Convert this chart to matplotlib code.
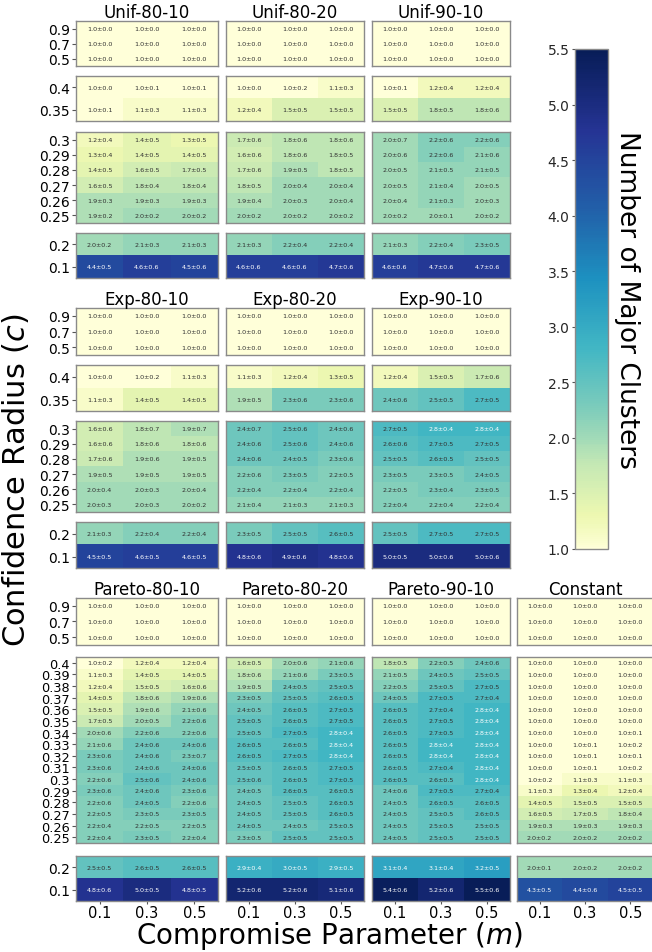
import numpy as np
import matplotlib
matplotlib.use("Agg")
import matplotlib.pyplot as plt
from matplotlib import colors as mcolors, cm

# ---------------- data ----------------
M_VALUES = ["0.1", "0.3", "0.5"]
C_TOP = ["0.9", "0.7", "0.5"]
C_MID = ["0.4", "0.35"]
C_LOW = ["0.3", "0.29", "0.28", "0.27", "0.26", "0.25"]
C_BOT = ["0.2", "0.1"]
C_FINE = ["0.4", "0.39", "0.38", "0.37", "0.36", "0.35", "0.34", "0.33",
          "0.32", "0.31", "0.3", "0.29", "0.28", "0.27", "0.26", "0.25"]

TOP_ONES = ["1.0±0.0 1.0±0.0 1.0±0.0"] * 3

UNIF_80_10 = TOP_ONES + [
    "1.0±0.0 1.0±0.1 1.0±0.1",
    "1.0±0.1 1.1±0.3 1.1±0.3",
    "1.2±0.4 1.4±0.5 1.3±0.5",
    "1.3±0.4 1.4±0.5 1.4±0.5",
    "1.4±0.5 1.6±0.5 1.7±0.5",
    "1.6±0.5 1.8±0.4 1.8±0.4",
    "1.9±0.3 1.9±0.3 1.9±0.3",
    "1.9±0.2 2.0±0.2 2.0±0.2",
    "2.0±0.2 2.1±0.3 2.1±0.3",
    "4.4±0.5 4.6±0.6 4.5±0.6",
]
UNIF_80_20 = TOP_ONES + [
    "1.0±0.0 1.0±0.2 1.1±0.3",
    "1.2±0.4 1.5±0.5 1.5±0.5",
    "1.7±0.6 1.8±0.6 1.8±0.6",
    "1.6±0.6 1.8±0.6 1.8±0.5",
    "1.7±0.6 1.9±0.5 1.8±0.5",
    "1.8±0.5 2.0±0.4 2.0±0.4",
    "1.9±0.4 2.0±0.3 2.0±0.4",
    "2.0±0.2 2.0±0.2 2.0±0.2",
    "2.1±0.3 2.2±0.4 2.2±0.4",
    "4.6±0.6 4.6±0.6 4.7±0.6",
]
UNIF_90_10 = TOP_ONES + [
    "1.0±0.1 1.2±0.4 1.2±0.4",
    "1.5±0.5 1.8±0.5 1.8±0.6",
    "2.0±0.7 2.2±0.6 2.2±0.6",
    "2.0±0.6 2.2±0.6 2.1±0.6",
    "2.0±0.5 2.1±0.5 2.1±0.5",
    "2.0±0.5 2.1±0.4 2.0±0.5",
    "2.0±0.4 2.1±0.3 2.0±0.3",
    "2.0±0.2 2.0±0.1 2.0±0.2",
    "2.1±0.3 2.2±0.4 2.3±0.5",
    "4.6±0.6 4.7±0.6 4.7±0.6",
]
EXP_80_10 = TOP_ONES + [
    "1.0±0.0 1.0±0.2 1.1±0.3",
    "1.1±0.3 1.4±0.5 1.4±0.5",
    "1.6±0.6 1.8±0.7 1.9±0.7",
    "1.6±0.6 1.8±0.6 1.8±0.6",
    "1.7±0.6 1.9±0.6 1.9±0.5",
    "1.9±0.5 1.9±0.5 1.9±0.5",
    "2.0±0.4 2.0±0.3 2.0±0.4",
    "2.0±0.3 2.0±0.3 2.0±0.2",
    "2.1±0.3 2.2±0.4 2.2±0.4",
    "4.5±0.5 4.6±0.5 4.6±0.5",
]
EXP_80_20 = TOP_ONES + [
    "1.1±0.3 1.2±0.4 1.3±0.5",
    "1.9±0.5 2.3±0.6 2.3±0.6",
    "2.4±0.7 2.5±0.6 2.4±0.6",
    "2.4±0.6 2.5±0.6 2.4±0.6",
    "2.4±0.6 2.4±0.5 2.3±0.6",
    "2.2±0.6 2.3±0.5 2.2±0.5",
    "2.2±0.4 2.2±0.4 2.2±0.4",
    "2.1±0.4 2.1±0.3 2.1±0.3",
    "2.3±0.5 2.5±0.5 2.6±0.5",
    "4.8±0.6 4.9±0.6 4.8±0.6",
]
EXP_90_10 = TOP_ONES + [
    "1.2±0.4 1.5±0.5 1.7±0.6",
    "2.4±0.6 2.5±0.5 2.7±0.5",
    "2.7±0.5 2.8±0.4 2.8±0.4",
    "2.6±0.6 2.7±0.5 2.7±0.5",
    "2.5±0.5 2.6±0.5 2.5±0.5",
    "2.3±0.5 2.3±0.5 2.4±0.5",
    "2.2±0.5 2.3±0.4 2.3±0.5",
    "2.2±0.4 2.2±0.4 2.2±0.4",
    "2.5±0.5 2.7±0.5 2.7±0.5",
    "5.0±0.5 5.0±0.6 5.0±0.6",
]
PARETO_80_10 = TOP_ONES + [
    "1.0±0.2 1.2±0.4 1.2±0.4",
    "1.1±0.3 1.4±0.5 1.4±0.5",
    "1.2±0.4 1.5±0.5 1.6±0.6",
    "1.4±0.5 1.8±0.6 1.9±0.6",
    "1.5±0.5 1.9±0.6 2.1±0.6",
    "1.7±0.5 2.0±0.5 2.2±0.6",
    "2.0±0.6 2.2±0.6 2.2±0.6",
    "2.1±0.6 2.4±0.6 2.4±0.6",
    "2.3±0.6 2.4±0.6 2.3±0.7",
    "2.3±0.6 2.4±0.6 2.4±0.6",
    "2.2±0.6 2.5±0.6 2.4±0.6",
    "2.3±0.6 2.4±0.6 2.3±0.6",
    "2.2±0.6 2.4±0.5 2.2±0.6",
    "2.2±0.5 2.3±0.5 2.3±0.5",
    "2.2±0.4 2.2±0.5 2.2±0.5",
    "2.2±0.4 2.3±0.5 2.2±0.4",
    "2.5±0.5 2.6±0.5 2.6±0.5",
    "4.8±0.6 5.0±0.5 4.8±0.5",
]
PARETO_80_20 = TOP_ONES + [
    "1.6±0.5 2.0±0.6 2.1±0.6",
    "1.8±0.6 2.1±0.6 2.3±0.5",
    "1.9±0.5 2.4±0.5 2.5±0.5",
    "2.3±0.5 2.5±0.5 2.6±0.5",
    "2.4±0.5 2.6±0.5 2.7±0.5",
    "2.5±0.5 2.6±0.5 2.7±0.5",
    "2.5±0.5 2.7±0.5 2.8±0.4",
    "2.6±0.5 2.6±0.5 2.8±0.4",
    "2.6±0.5 2.7±0.5 2.8±0.4",
    "2.5±0.5 2.6±0.5 2.7±0.5",
    "2.5±0.6 2.6±0.5 2.7±0.5",
    "2.4±0.5 2.6±0.5 2.6±0.5",
    "2.4±0.5 2.5±0.5 2.6±0.5",
    "2.4±0.5 2.5±0.5 2.6±0.5",
    "2.4±0.5 2.4±0.5 2.5±0.5",
    "2.3±0.5 2.5±0.5 2.5±0.5",
    "2.9±0.4 3.0±0.5 2.9±0.5",
    "5.2±0.6 5.2±0.6 5.1±0.6",
]
PARETO_90_10 = TOP_ONES + [
    "1.8±0.5 2.2±0.5 2.4±0.6",
    "2.1±0.5 2.4±0.5 2.5±0.5",
    "2.2±0.5 2.5±0.5 2.7±0.5",
    "2.4±0.5 2.7±0.5 2.7±0.4",
    "2.6±0.5 2.7±0.4 2.8±0.4",
    "2.6±0.5 2.7±0.5 2.8±0.4",
    "2.6±0.5 2.7±0.5 2.8±0.4",
    "2.6±0.5 2.8±0.4 2.8±0.4",
    "2.6±0.5 2.8±0.4 2.8±0.4",
    "2.6±0.5 2.7±0.4 2.8±0.4",
    "2.6±0.5 2.6±0.5 2.8±0.4",
    "2.4±0.6 2.7±0.5 2.7±0.4",
    "2.4±0.5 2.6±0.5 2.6±0.5",
    "2.4±0.5 2.5±0.5 2.6±0.5",
    "2.4±0.5 2.5±0.5 2.5±0.5",
    "2.4±0.5 2.5±0.5 2.5±0.5",
    "3.1±0.4 3.1±0.4 3.2±0.5",
    "5.4±0.6 5.2±0.6 5.5±0.6",
]
CONSTANT = TOP_ONES + [
    "1.0±0.0 1.0±0.0 1.0±0.0",
    "1.0±0.0 1.0±0.0 1.0±0.0",
    "1.0±0.0 1.0±0.0 1.0±0.0",
    "1.0±0.0 1.0±0.0 1.0±0.0",
    "1.0±0.0 1.0±0.0 1.0±0.0",
    "1.0±0.0 1.0±0.0 1.0±0.0",
    "1.0±0.0 1.0±0.0 1.0±0.1",
    "1.0±0.0 1.0±0.1 1.0±0.2",
    "1.0±0.0 1.0±0.1 1.0±0.1",
    "1.0±0.0 1.0±0.1 1.0±0.2",
    "1.0±0.2 1.1±0.3 1.1±0.3",
    "1.1±0.3 1.3±0.4 1.2±0.4",
    "1.4±0.5 1.5±0.5 1.5±0.5",
    "1.6±0.5 1.7±0.5 1.8±0.4",
    "1.9±0.3 1.9±0.3 1.9±0.3",
    "2.0±0.2 2.0±0.2 2.0±0.2",
    "2.0±0.1 2.0±0.2 2.0±0.2",
    "4.3±0.5 4.4±0.6 4.5±0.5",
]

# ---------------- layout ----------------
W, H = 652, 953
fig = plt.figure(figsize=(W / 100, H / 100), dpi=100)
_base = plt.get_cmap("YlGnBu")
cmap = mcolors.ListedColormap(_base(np.linspace(0, 1, 256) ** 0.765), name="YlGnBu_g")
norm = mcolors.Normalize(vmin=1.0, vmax=5.5)

COLS = [(76, 218), (226, 364), (372, 510), (517, 653)]
ROW_BLOCKS_4 = {
    0: [(22, 67), (77, 122), (133, 224), (234, 279)],
    1: [(309, 356), (366, 412), (422, 513), (523, 569)],
}
ROW_BLOCKS_3 = [(599, 646), (658, 844), (857, 902)]


def rect(x0, y0, x1, y1):
    return [x0 / W, 1 - y1 / H, (x1 - x0) / W, (y1 - y0) / H]


def lum(rgba):
    rgb = np.array(rgba[:3])
    rgb = np.where(rgb <= .03928, rgb / 12.92, ((rgb + .055) / 1.055) ** 2.4)
    return rgb.dot([.2126, .7152, .0722])


def draw_block(xr, yr, rows, clabels, show_y, show_x, title=None):
    ax = fig.add_axes(rect(xr[0], yr[0], xr[1], yr[1]))
    labels = [r.split() for r in rows]
    means = np.array([[float(s.split("±")[0]) for s in r] for r in labels])
    ax.imshow(means, cmap=cmap, norm=norm, aspect="auto", interpolation="nearest")
    for i in range(means.shape[0]):
        for j in range(means.shape[1]):
            c = cmap(norm(means[i, j]))
            tc = "#303030" if lum(c) > .408 else "white"
            ax.text(j, i, labels[i][j], ha="center", va="center",
                    fontsize=4.6, color=tc)
    ax.set_xticks(range(len(M_VALUES)))
    ax.set_yticks(range(len(clabels)))
    if show_y:
        fs = 9.3 if len(clabels) > 8 else 10
        ax.set_yticklabels(clabels, fontsize=fs)
        ax.tick_params(axis="y", length=3, pad=1.5, color="#555555")
    else:
        ax.set_yticklabels([])
        ax.tick_params(axis="y", length=0)
    if show_x:
        ax.set_xticklabels(M_VALUES, fontsize=10.5)
        ax.tick_params(axis="x", length=2, pad=1, color="#555555")
    else:
        ax.set_xticklabels([])
        ax.tick_params(axis="x", length=0)
    for s in ax.spines.values():
        s.set_color("#8a8a8a")
        s.set_linewidth(1.0)
    if title:
        ax.set_title(title, fontsize=12, pad=3)
    return ax


grid4 = [C_TOP, C_MID, C_LOW, C_BOT]
grid3 = [C_TOP, C_FINE, C_BOT]
panels_top = [
    (0, 0, "Unif-80-10", UNIF_80_10),
    (0, 1, "Unif-80-20", UNIF_80_20),
    (0, 2, "Unif-90-10", UNIF_90_10),
    (1, 0, "Exp-80-10", EXP_80_10),
    (1, 1, "Exp-80-20", EXP_80_20),
    (1, 2, "Exp-90-10", EXP_90_10),
]
for r, c, name, rows in panels_top:
    start = 0
    for b, clab in enumerate(grid4):
        n = len(clab)
        draw_block(COLS[c], ROW_BLOCKS_4[r][b], rows[start:start + n], clab,
                   show_y=(c == 0), show_x=False, title=name if b == 0 else None)
        start += n

panels_bottom = [
    (0, "Pareto-80-10", PARETO_80_10),
    (1, "Pareto-80-20", PARETO_80_20),
    (2, "Pareto-90-10", PARETO_90_10),
    (3, "Constant", CONSTANT),
]
for c, name, rows in panels_bottom:
    start = 0
    for b, clab in enumerate(grid3):
        n = len(clab)
        draw_block(COLS[c], ROW_BLOCKS_3[b], rows[start:start + n], clab,
                   show_y=(c == 0), show_x=(b == 2), title=name if b == 0 else None)
        start += n

# colorbar
cax = fig.add_axes(rect(575, 50, 608, 550))
cb = fig.colorbar(cm.ScalarMappable(norm=norm, cmap=cmap), cax=cax)
ticks = np.arange(1.0, 5.51, 0.5)
cb.set_ticks(ticks)
cb.set_ticklabels([f"{v:.1f}" for v in ticks])
cax.yaxis.set_ticks_position("left")
cax.tick_params(axis="y", labelsize=10, length=2, pad=2, color="#555555",
                labelcolor="#262626")
cb.outline.set_edgecolor("#8a8a8a")
cb.outline.set_linewidth(1.0)
fig.text(627 / W, 1 - 300 / H, "Number of Major Clusters", rotation=270,
         ha="center", va="center", fontsize=19)

fig.text(16 / W, 1 - 480 / H, "Confidence Radius ($c$)", rotation=90,
         ha="center", va="center", fontsize=22)
fig.text(330 / W, 1 - 936 / H, "Compromise Parameter ($m$)",
         ha="center", va="center", fontsize=20)

fig.savefig("out.png", dpi=100)
